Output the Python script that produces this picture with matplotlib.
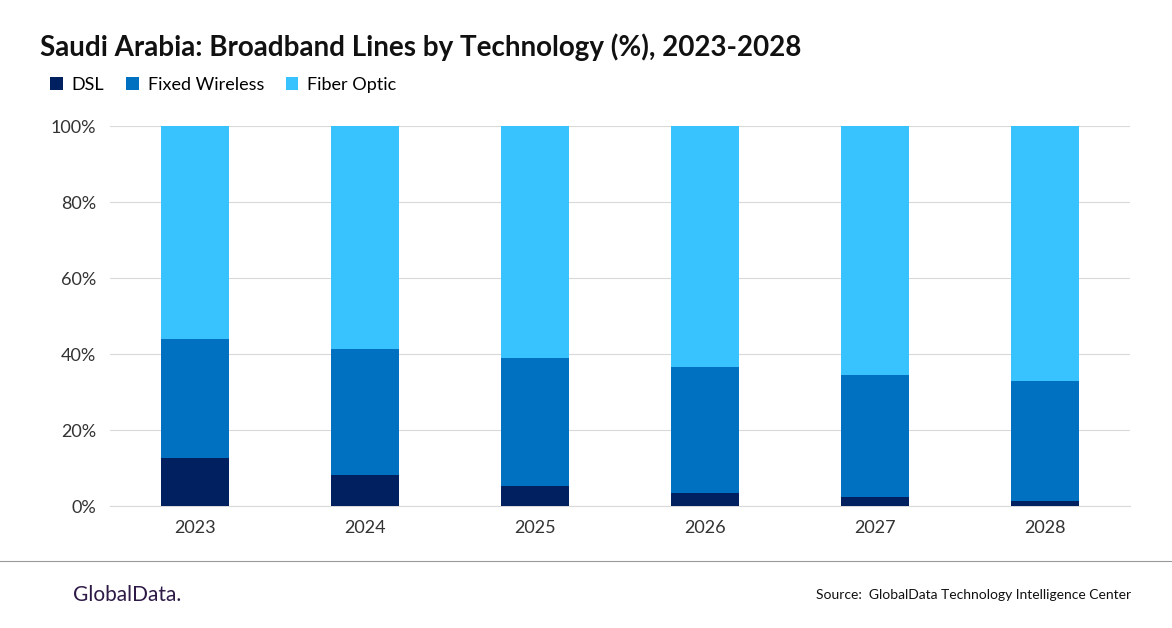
import numpy as np
import matplotlib.pyplot as plt

plt.rcParams['font.family'] = ['Lato', 'DejaVu Sans']

#values (share of lines, %)
years = ['2023', '2024', '2025', '2026', '2027', '2028']
dsl = np.array([12.6, 8.2, 5.3, 3.4, 2.4, 1.3])
fixed_wireless = np.array([31.3, 33.1, 33.6, 33.2, 32.1, 31.6])
fiber = 100 - dsl - fixed_wireless

'''
stacked bar chart of broadband lines by technology
@inputs: years - x labels
    dsl, fixed_wireless, fiber - shares per year
'''
def plot_broadband(years, dsl, fixed_wireless, fiber):
    fig = plt.figure(figsize=(11.72, 6.28), dpi=100)
    ax = fig.add_axes([0.094, 0.194, 0.87, 0.605])

    x = np.arange(len(years))
    ax.bar(x, dsl, width=0.4, color='#002060', label='DSL', zorder=3)
    ax.bar(x, fixed_wireless, width=0.4, bottom=dsl, color='#0070C0', label='Fixed Wireless', zorder=3)
    ax.bar(x, fiber, width=0.4, bottom=dsl + fixed_wireless, color='#38C3FF', label='Fiber Optic', zorder=3)

    #axes styling
    ax.set_xlim(-0.5, len(years) - 0.5)
    ax.set_ylim(0, 100)
    ax.set_yticks(range(0, 101, 20))
    ax.set_yticklabels([f'{v}%' for v in range(0, 101, 20)], fontsize=13, color='#333333')
    ax.set_xticks(x)
    ax.set_xticklabels(years, fontsize=13, color='#333333')
    ax.grid(axis='y', color='#D9D9D9', linewidth=0.8, zorder=0)
    ax.tick_params(length=0, pad=10)
    for side in ['top', 'right', 'left']:
        ax.spines[side].set_visible(False)
    ax.spines['bottom'].set_color('#D9D9D9')

    #title and legend
    fig.text(0.034, 0.925, 'Saudi Arabia: Broadband Lines by Technology (%), 2023-2028',
             fontsize=20, fontweight='bold', color='#111111', va='center')
    ax.legend(loc='lower left', bbox_to_anchor=(-0.075, 1.045), ncol=3, frameon=False,
              fontsize=13, handlelength=0.7, handleheight=0.7, columnspacing=1.2, handletextpad=0.5)

    #footer
    fig.add_artist(plt.Line2D([0, 1], [0.107, 0.107], color='#999999', linewidth=0.8))
    fig.text(0.062, 0.052, 'GlobalData.', fontsize=15, color='#2E1A47', va='center')
    fig.text(0.965, 0.052, 'Source:  GlobalData Technology Intelligence Center',
             fontsize=10, color='#111111', ha='right', va='center')

    fig.savefig('out.png', dpi=100)

if __name__ == '__main__':
    plot_broadband(years, dsl, fixed_wireless, fiber)
